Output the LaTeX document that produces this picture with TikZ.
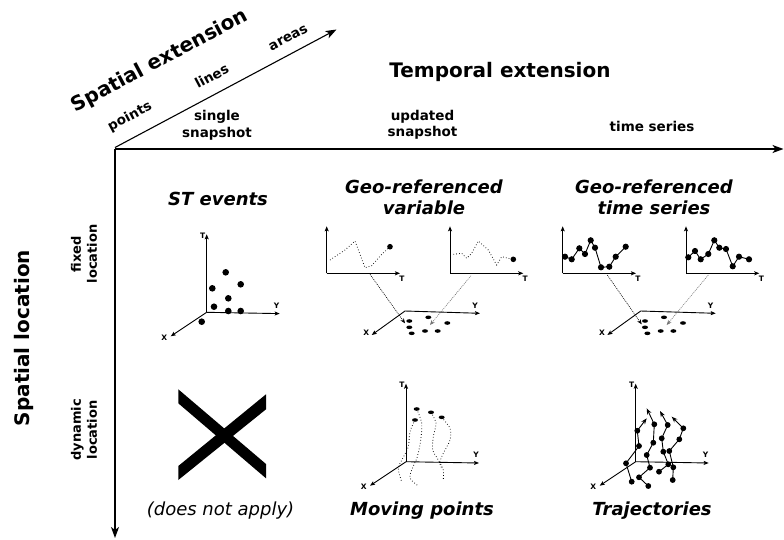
\documentclass[tikz,border=0pt]{standalone}
\usepackage{fontspec}
\setmainfont{DejaVu Sans}
\usetikzlibrary{arrows.meta}
\begin{document}
\begin{tikzpicture}[x=1pt,y=-1pt,
  mainax/.style={line width=1.1pt,-{Stealth[length=11pt,width=8pt,inset=3pt]}},
  ax/.style={line width=0.9pt,-{Stealth[length=5pt,width=4pt,inset=1pt]}},
  axlbl/.style={font=\bfseries\fontsize{7.5}{8}\selectfont,inner sep=0pt},
  big/.style={font=\bfseries\fontsize{20}{24}\selectfont,inner sep=0pt},
  lbl/.style={font=\bfseries\fontsize{13.5}{16.5}\selectfont,align=center,inner sep=0pt},
  side/.style={font=\bfseries\fontsize{13}{16}\selectfont,align=center,inner sep=0pt,rotate=90},
  ttl/.style={font=\bfseries\itshape\fontsize{18}{21}\selectfont,align=center,inner sep=0pt},
  sparse/.style={line width=0.8pt,dash pattern=on 0.7pt off 2.2pt},
  link/.style={line width=0.6pt,dash pattern=on 1pt off 1pt,-{Stealth[length=5pt,width=4pt]}},
  series/.style={line width=0.9pt,mark=*,mark size=2.6pt},
  traj/.style={line width=0.9pt,mark=*,mark size=2.4pt},
  trajtip/.style={line width=0.9pt,-{Stealth[length=6pt,width=4.5pt]}},
  flatxy/.pic={
    \coordinate (o) at (0,0);
    \draw[ax] (o) -- (75,2.3) node[axlbl,above,yshift=4pt,xshift=-5pt]{Y};
    \draw[ax] (o) -- (-33.3,24) node[axlbl,left,xshift=-2pt,yshift=2pt]{X};
    \foreach \p in {(4.3,10),(23.3,6.3),(42.3,12),(4.3,16.3),(20,20),(32.7,20),(6.7,22.3)}
      \fill \p ellipse (3pt and 1.8pt);
  },
  tgraph/.pic={
    \coordinate (g) at (0,0);
    \draw[ax] (g) -- (0,-47);
    \draw[ax] (g) -- (73.3,0) node[axlbl,below,yshift=-2pt,xshift=2pt]{T};
  },
  txyz/.pic={
    \coordinate (c) at (0,0);
    \draw[ax] (c) -- (0,-78) node[axlbl,left,xshift=-1pt,yshift=-1pt]{T};
    \draw[ax] (c) -- (73,1.3) node[axlbl,above,yshift=5pt,xshift=-3pt]{Y};
    \draw[ax] (c) -- (-36,24) node[axlbl,left,xshift=-3pt,yshift=-1pt]{X};
  }]
\useasboundingbox (0,0) rectangle (784,539);

% main axes
\coordinate (O) at (115,149);
\coordinate (Tend) at (783.5,149);
\coordinate (Send) at (115,538);
\coordinate (Eend) at (336.5,29.5);
\draw[mainax] (O) -- (Tend);
\draw[mainax] (O) -- (Send);
\draw[mainax] (115,147.5) -- (Eend);

% axis titles
\node[big,rotate=28] (spext) at (160,61) {Spatial extension};
\node[big] (tmpext) at (500,72) {Temporal extension};
\node[big,rotate=90] (sploc) at (24,338) {Spatial location};

\node[lbl,rotate=28] (pts) at (130,117) {points};
\node[lbl,rotate=28] (lns) at (211.7,76) {lines};
\node[lbl,rotate=28] (ars) at (288.3,38) {areas};

\node[lbl] (single) at (217,125.5) {single\\snapshot};
\node[lbl] (updated) at (422.5,125) {updated\\snapshot};
\node[lbl] (tseries) at (652,126) {time series};

\node[side] (fixed) at (84,254) {fixed\\location};
\node[side] (dyn) at (84,430) {dynamic\\location};

% titles
\node[ttl] (ste) at (218,199) {ST events};
\node[ttl] (grv) at (424,197) {Geo-referenced\\variable};
\node[ttl] (grt) at (654,197) {Geo-referenced\\time series};
\node[font=\itshape\fontsize{18}{21}\selectfont,inner sep=0pt] (dna) at (220.5,511) {(does not apply)};
\node[ttl] (mvp) at (422,511) {Moving points};
\node[ttl] (trj) at (652,511) {Trajectories};

% ST events
\pic at (206.7,312.3) {txyz};
\foreach \p in {(225.7,272.3),(212.3,288.3),(240.7,284.3),(228.3,298.3),(214,306.7),(228.3,311),(240.7,311),(201.7,321.7)}
  \fill \p circle (3.3pt);

% Geo-referenced variable
\pic at (326.7,273.3) {tgraph};
\pic at (450,273.3) {tgraph};
\draw[sparse] plot coordinates {(330,260) (345,250) (355,241) (365,267.7) (371.7,265.7) (381.7,254.3) (390,246.7)};
\fill (390,246.7) circle (2.8pt);
\draw[sparse] plot coordinates {(453.3,254.3) (461.7,253.3) (466.7,258.3) (471.7,253.3) (478.3,241) (488.3,250) (496.7,265) (501.7,256.7) (508.3,258.3) (513.3,259.3)};
\fill (513.3,259.3) circle (2.8pt);
\pic at (405,311) {flatxy};
\coordinate (va1) at (370,274.3);
\coordinate (vb1) at (405,323.3);
\coordinate (va2) at (471,275.7);
\coordinate (vb2) at (430,325);
\draw[link] (va1) -- (vb1);
\draw[link,black!55] (va2) -- (vb2);

% Geo-referenced time series
\pic at (562.7,273.3) {tgraph};
\pic at (686,273.3) {tgraph};
\draw[series] plot coordinates {(565,256.7) (571.7,259.3) (579.3,248.3) (585,254) (590.7,240.3) (595,247.7) (601,267.3) (609.3,266.7) (615.7,256.7) (625.7,246.7)};
\draw[series] plot coordinates {(688.3,257.3) (695,251) (700.7,259.3) (708.3,254) (714.3,240.3) (719.3,247.7) (726,249) (732.7,266.3) (739,256.7) (749,259.3)};
\pic at (640.7,311) {flatxy};
\coordinate (ta1) at (607.3,275);
\coordinate (tb1) at (641.7,324.3);
\coordinate (ta2) at (708.3,275);
\coordinate (tb2) at (666.7,325);
\draw[link] (ta1) -- (tb1);
\draw[link,black!55] (ta2) -- (tb2);

% does not apply cross
\fill (178.3,389.3) -- (266,464) -- (266,478.3) -- (178.3,403.3) -- cycle;
\fill (266,394.3) -- (178.3,466) -- (178.3,480) -- (266,409.3) -- cycle;

% Moving points
\pic at (406,461.7) {txyz};
\draw[sparse] plot[smooth] coordinates {(415,420) (410,431.7) (408.3,446.7) (403.3,457.3) (398.3,468.3) (401.7,481.7)};
\draw[sparse] plot[smooth] coordinates {(416.7,409) (421.7,423.3) (420.7,440) (417.3,456.7) (411.7,470) (410,478.3) (418.3,486)};
\draw[sparse] plot[smooth] coordinates {(431,412.3) (436,423.3) (433.3,436.7) (432.7,450) (438.3,460) (441.7,468.3)};
\draw[sparse] plot[smooth] coordinates {(441.7,417.3) (450,428.3) (450,440) (443.3,453.3) (440,461.7) (443.3,470) (443.3,480)};
\foreach \p in {(416.7,409),(431,412.3),(441.7,417.3),(415,420)}
  \fill \p ellipse (3pt and 1.8pt);

% Trajectories
\pic at (635.7,461.7) {txyz};
\draw[traj] plot coordinates {(631.7,481.7) (626,463.3) (639,446) (637.3,430.7)};
\draw[trajtip] (637.3,430.7) -- (646.7,418.3);
\draw[traj] plot coordinates {(648.3,486) (639,477.3) (650,467.7) (646.7,455) (653.3,442.7) (654.3,424.3)};
\draw[trajtip] (654.3,424.3) -- (646.7,408.3);
\draw[traj] plot coordinates {(659,471.7) (668.3,464.3) (663.3,451.7) (661.7,438.3) (667.7,425)};
\draw[trajtip] (667.7,425) -- (660,411);
\draw[traj] plot coordinates {(672.7,480) (673.3,467.3) (669.3,451) (679.3,439.3) (683.3,428.3)};
\draw[trajtip] (683.3,428.3) -- (671.7,416.7);
\end{tikzpicture}
\end{document}
